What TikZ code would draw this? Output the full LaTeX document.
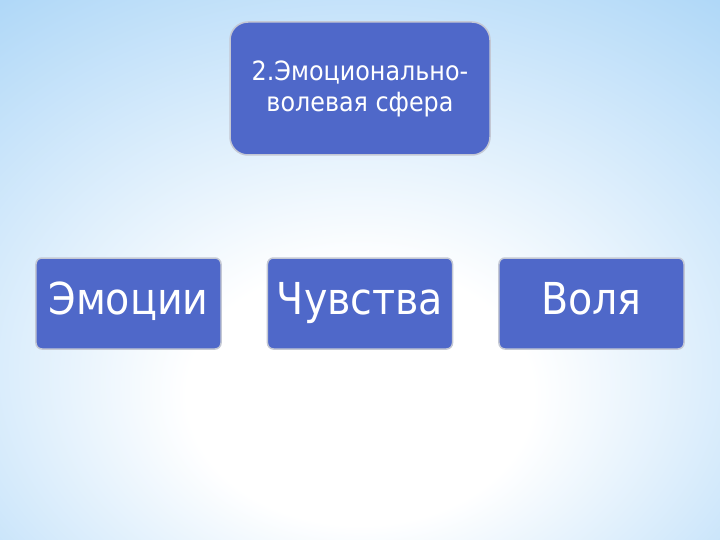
\documentclass[tikz,border=0pt]{standalone}
\usepackage{fontspec}
\setmainfont{DejaVu Sans Condensed}
\definecolor{boxblue}{RGB}{79,104,201}
\definecolor{boxrim}{RGB}{196,200,212}
\definecolor{bgedge}{RGB}{158,207,246}
\pgfdeclareradialshading{slidebg}{\pgfpoint{0bp}{-14bp}}{color(0bp)=(white); color(12bp)=(white); color(46bp)=(bgedge); color(70bp)=(bgedge)}
\tikzset{
  box/.style={draw=boxrim, line width=1.5pt, fill=boxblue, text=white,
    rounded corners=6pt, minimum width=185pt, minimum height=91pt,
    text height=32pt, text depth=10pt,
    font=\fontsize{44}{50}\selectfont},
  topbox/.style={box, rounded corners=18pt, minimum width=260pt,
    minimum height=133pt, align=center, text height=, text depth=,
    font=\fontsize{26.5}{31}\selectfont}
}
\begin{document}
\begin{tikzpicture}[x=1pt,y=-1pt]
\shade[shading=slidebg] (0,0) rectangle (720,540);
\useasboundingbox (0,0) rectangle (720,540);
\node[topbox] (sphere) at (360,88.5) {2.Эмоционально-\\волевая сфера};
\matrix[column sep={231.5pt,between origins}] at (360,303.5)
{ \node[box](emotions) {Эмоции}; & \node[box](feelings) {Чувства}; & \node[box](will) {Воля}; \\};
\end{tikzpicture}
\end{document}
